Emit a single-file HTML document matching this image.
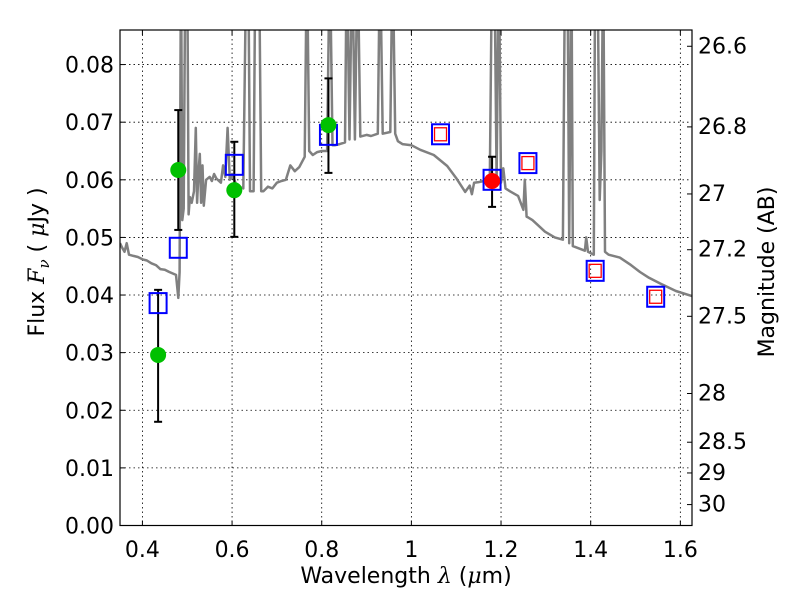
<!DOCTYPE html>
<html><head><meta charset="utf-8"><style>
body{margin:0;background:#fff;}
svg{display:block;font-family:"DejaVu Sans","Liberation Sans",sans-serif;}
</style></head><body>
<svg id="chart" width="800" height="600" xmlns="http://www.w3.org/2000/svg">
<defs><clipPath id="pc"><rect x="120" y="30" width="572" height="495.5"/></clipPath></defs>
<rect width="800" height="600" fill="#fff"/>
<g id="grid"></g>
<g id="spec" clip-path="url(#pc)"></g>
<g id="marks"></g>
<rect x="120" y="30" width="572" height="495.5" fill="none" stroke="#000" stroke-width="1.2"/>
<g id="axes"></g>
<text x="406" y="583" font-size="22" text-anchor="middle">Wavelength  <tspan font-style="italic" font-family="DejaVu Serif,serif">λ</tspan> (<tspan font-style="italic" font-family="DejaVu Serif,serif">μ</tspan>m)</text>
<text transform="translate(44,262) rotate(-90)" font-size="22" text-anchor="middle">Flux  <tspan font-style="italic" font-family="DejaVu Serif,serif">F</tspan><tspan font-style="italic" font-family="DejaVu Serif,serif" font-size="15" dy="5">ν</tspan><tspan dy="-5">  (  </tspan><tspan font-style="italic" font-family="DejaVu Serif,serif">μ</tspan>Jy )</text>
<text transform="translate(774,272) rotate(-90)" font-size="22" text-anchor="middle">Magnitude (AB)</text>
</svg>
<script>
const xTicks=[0.4,0.6,0.8,1,1.2,1.4,1.6];
const yTicks=[0,0.01,0.02,0.03,0.04,0.05,0.06,0.07,0.08];
const magTicks=[26.6,26.8,27,27.2,27.5,28,28.5,29,30];
const specLam=[0.35,0.355,0.36,0.365,0.37,0.38,0.39,0.40,0.41,0.42,0.43,0.44,0.45,0.46,0.475,0.480,0.483,0.486,0.489,0.492,0.496,0.500,0.503,0.506,0.510,0.515,0.519,0.522,0.525,0.528,0.531,0.534,0.537,0.542,0.55,0.555,0.56,0.565,0.575,0.58,0.585,0.59,0.595,0.60,0.61,0.625,0.632,0.636,0.640,0.648,0.652,0.656,0.660,0.665,0.67,0.68,0.69,0.70,0.71,0.72,0.73,0.74,0.75,0.762,0.767,0.772,0.78,0.79,0.80,0.812,0.818,0.824,0.83,0.84,0.852,0.856,0.862,0.868,0.874,0.88,0.886,0.90,0.91,0.925,0.93,0.936,0.953,0.958,0.964,0.97,0.98,1.0,1.02,1.05,1.08,1.1,1.12,1.13,1.135,1.14,1.15,1.175,1.18,1.185,1.19,1.195,1.2,1.205,1.21,1.22,1.238,1.25,1.253,1.257,1.26,1.27,1.28,1.298,1.32,1.338,1.343,1.348,1.352,1.357,1.36,1.387,1.39,1.394,1.407,1.41,1.415,1.42,1.424,1.428,1.432,1.44,1.465,1.49,1.51,1.53,1.555,1.59,1.627];
const specFlux=[0.0490,0.0482,0.0475,0.0490,0.0470,0.0468,0.0466,0.0462,0.0460,0.0455,0.0452,0.0445,0.0444,0.0440,0.0435,0.0395,0.0440,0.10,0.053,0.055,0.10,0.10,0.054,0.057,0.056,0.058,0.069,0.056,0.061,0.0645,0.056,0.0625,0.0555,0.060,0.0605,0.0598,0.061,0.0602,0.0595,0.0625,0.0605,0.069,0.0600,0.061,0.0590,0.0585,0.10,0.10,0.058,0.058,0.10,0.10,0.10,0.058,0.0580,0.0588,0.0585,0.0595,0.0598,0.0600,0.0625,0.0615,0.0622,0.064,0.10,0.065,0.0643,0.0648,0.0650,0.065,0.10,0.066,0.066,0.0662,0.0665,0.10,0.067,0.10,0.067,0.10,0.0675,0.0678,0.0676,0.068,0.10,0.068,0.0683,0.10,0.068,0.0667,0.0662,0.0660,0.0652,0.0643,0.0624,0.0603,0.0579,0.059,0.0575,0.0595,0.0596,0.0600,0.10,0.10,0.06,0.10,0.0595,0.062,0.0585,0.0580,0.0572,0.0548,0.060,0.0536,0.0535,0.0530,0.0523,0.0510,0.0500,0.0496,0.10,0.10,0.0490,0.10,0.0485,0.0477,0.050,0.0475,0.0470,0.10,0.10,0.0565,0.065,0.10,0.0475,0.0470,0.0465,0.0452,0.0440,0.0430,0.0420,0.0407,0.0398,0.0388];
const bandLam=[0.435,0.48,0.605,0.815,1.065,1.18,1.26,1.41,1.545];
const modelFlux=[0.0386,0.0482,0.0626,0.0678,0.0679,0.0600,0.0629,0.0442,0.0397];
const obsLam=[0.435,0.48,0.605,0.815];
const obsFlux=[0.0296,0.0617,0.0582,0.0695];
const obsLo=[0.0180,0.0513,0.0501,0.0612];
const obsHi=[0.0409,0.0721,0.0666,0.0776];
const nirLam=[1.065,1.18,1.26,1.41,1.545];
const nirFlux=[0.0679,0.0598,0.0629,0.0442,0.0397];
const redDotLam=[1.18];const redDotFlux=[0.0598];const redLo=[0.0553];const redHi=[0.0640];

const X0=120,X1=692,Y0=525.5,Y1=30,XMIN=0.35,XMAX=1.626,YMAX=0.086;
const sx=v=>X0+(v-XMIN)/(XMAX-XMIN)*(X1-X0);
const sy=v=>Y0-v/YMAX*(Y0-Y1);
const NS="http://www.w3.org/2000/svg";
function mk(p,t,a){const e=document.createElementNS(NS,t);for(const k in a)e.setAttribute(k,a[k]);p.appendChild(e);return e;}
const grid=document.getElementById('grid'),axes=document.getElementById('axes'),spec=document.getElementById('spec'),marks=document.getElementById('marks');
xTicks.forEach(t=>{const x=sx(t);
 const g=mk(grid,'line',{x1:x,x2:x,y1:Y1,y2:Y0,stroke:'#000','stroke-width':0.8,'stroke-dasharray':'1.5,3'});
 
 mk(axes,'line',{x1:x,x2:x,y1:Y0,y2:Y0-5,stroke:'#000'});mk(axes,'line',{x1:x,x2:x,y1:Y1,y2:Y1+5,stroke:'#000'});
 const l=mk(axes,'text',{x:x,y:557,'font-size':22,'text-anchor':'middle'});l.textContent=String(t);
 });
yTicks.forEach(t=>{const y=sy(t);
 const g=mk(grid,'line',{x1:X0,x2:X1,y1:y,y2:y,stroke:'#000','stroke-width':0.8,'stroke-dasharray':'1.5,3'});
 
 mk(axes,'line',{x1:X0,x2:X0+5,y1:y,y2:y,stroke:'#000'});
 const l=mk(axes,'text',{x:114,y:y+8,'font-size':22,'text-anchor':'end'});l.textContent=t.toFixed(2);
 });
magTicks.forEach(m=>{const y=sy(Math.pow(10,(23.9-m)/2.5));
 mk(axes,'line',{x1:X1,x2:X1-5,y1:y,y2:y,stroke:'#000'});
 const l=mk(axes,'text',{x:698,y:y+7,'font-size':22});l.textContent=String(m);
 });
const pts=specLam.map((l,i)=>sx(l).toFixed(1)+','+sy(specFlux[i]).toFixed(1)).join(' ');
const pl=mk(spec,'polyline',{points:pts,fill:'none',stroke:'#808080','stroke-width':2.5,'stroke-linejoin':'round'});

function ebar(l,lo,hi){const x=sx(l);mk(marks,'line',{x1:x,x2:x,y1:sy(lo),y2:sy(hi),stroke:'#000','stroke-width':2});
 mk(marks,'line',{x1:x-4,x2:x+4,y1:sy(lo),y2:sy(lo),stroke:'#000','stroke-width':2});
 mk(marks,'line',{x1:x-4,x2:x+4,y1:sy(hi),y2:sy(hi),stroke:'#000','stroke-width':2});}
obsLam.forEach((l,i)=>ebar(l,obsLo[i],obsHi[i]));
redDotLam.forEach((l,i)=>ebar(l,redLo[i],redHi[i]));
bandLam.forEach((l,i)=>{const r=mk(marks,'rect',{x:sx(l)-8.5,y:sy(modelFlux[i])-10,width:17,height:20,fill:'none',stroke:'#0000ff','stroke-width':2});
 });
nirLam.forEach((l,i)=>{if(l===1.18)return;const r=mk(marks,'rect',{x:sx(l)-6,y:sy(nirFlux[i])-6.5,width:12,height:13,fill:'none',stroke:'#ff0000','stroke-width':1.3});
 });
obsLam.forEach((l,i)=>{const c=mk(marks,'circle',{cx:sx(l),cy:sy(obsFlux[i]),r:8,fill:'#00c000'});
 });
redDotLam.forEach((l,i)=>{const c=mk(marks,'circle',{cx:sx(l),cy:sy(redDotFlux[i]),r:8,fill:'#ff0000'});
 });
</script>
</body></html>
